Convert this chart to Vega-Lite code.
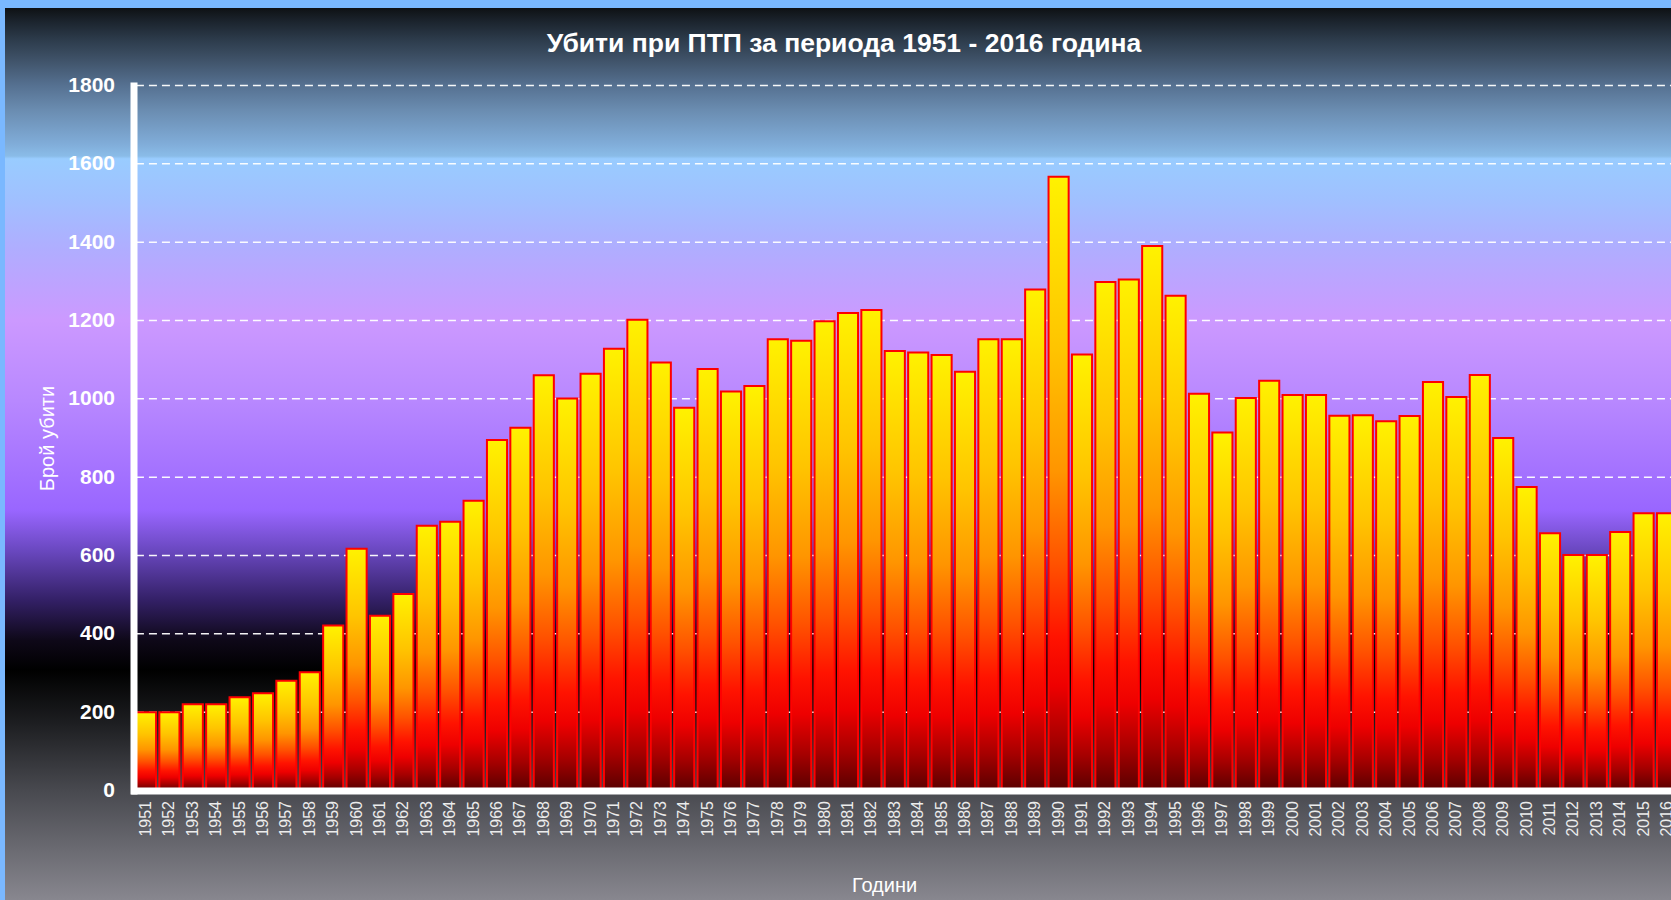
{
  "$schema": "https://vega.github.io/schema/vega-lite/v6.json",
  "width": 1666,
  "height": 892,
  "autosize": {"type": "none"},
  "padding": {"left": 5, "top": 8, "right": 0, "bottom": 0},
  "background": "#7ab8ff",
  "title": {
    "text": "Убити при ПТП за периода 1951 - 2016 година",
    "font": "Liberation Sans",
    "fontSize": 26.5,
    "fontWeight": "bold",
    "color": "#ffffff",
    "anchor": "middle",
    "frame": "group",
    "baseline": "alphabetic",
    "offset": -70,
    "dx": 6
  },
  "config": {
    "view": {
      "stroke": null,
      "fill": {
        "gradient": "linear",
        "x1": 0, "y1": 0, "x2": 0, "y2": 1,
        "stops": [
          {"offset": 0, "color": "#0e1114"},
          {"offset": 0.0135, "color": "#1a222b"},
          {"offset": 0.036, "color": "#2d3c4c"},
          {"offset": 0.058, "color": "#3f5268"},
          {"offset": 0.086, "color": "#557090"},
          {"offset": 0.114, "color": "#6a8cb0"},
          {"offset": 0.152, "color": "#80acd8"},
          {"offset": 0.166, "color": "#8abce8"},
          {"offset": 0.169, "color": "#99ccff"},
          {"offset": 0.215, "color": "#a0c0ff"},
          {"offset": 0.271, "color": "#b0adff"},
          {"offset": 0.35, "color": "#cc99ff"},
          {"offset": 0.44, "color": "#b888ff"},
          {"offset": 0.563, "color": "#9966ff"},
          {"offset": 0.608, "color": "#6a48c0"},
          {"offset": 0.664, "color": "#332066"},
          {"offset": 0.709, "color": "#0e0818"},
          {"offset": 0.742, "color": "#000000"},
          {"offset": 0.8, "color": "#1c1d20"},
          {"offset": 0.877, "color": "#48494f"},
          {"offset": 1, "color": "#88878f"}
        ]
      }
    }
  },
  "layer": [
    {
      "data": {"values": [{"g": 200}, {"g": 400}, {"g": 600}, {"g": 800}, {"g": 1000}, {"g": 1200}, {"g": 1400}, {"g": 1600}, {"g": 1800}]},
      "mark": {"type": "rule", "color": "#ffffff", "strokeWidth": 1.5, "strokeDash": [8, 5], "opacity": 0.95},
      "encoding": {
        "x": {"datum": 1951, "type": "ordinal", "bandPosition": 0},
        "x2": {"datum": 2016, "bandPosition": 1},
        "y": {"field": "g", "type": "quantitative"}
      }
    },
    {
      "data": {"values": [
        {"year": 1951, "killed": 200}, {"year": 1952, "killed": 200}, {"year": 1953, "killed": 220}, {"year": 1954, "killed": 220},
        {"year": 1955, "killed": 238}, {"year": 1956, "killed": 248}, {"year": 1957, "killed": 280}, {"year": 1958, "killed": 302},
        {"year": 1959, "killed": 421}, {"year": 1960, "killed": 617}, {"year": 1961, "killed": 446}, {"year": 1962, "killed": 502},
        {"year": 1963, "killed": 676}, {"year": 1964, "killed": 686}, {"year": 1965, "killed": 740}, {"year": 1966, "killed": 895},
        {"year": 1967, "killed": 926}, {"year": 1968, "killed": 1060}, {"year": 1969, "killed": 1001}, {"year": 1970, "killed": 1064},
        {"year": 1971, "killed": 1128}, {"year": 1972, "killed": 1202}, {"year": 1973, "killed": 1093}, {"year": 1974, "killed": 977},
        {"year": 1975, "killed": 1076}, {"year": 1976, "killed": 1019}, {"year": 1977, "killed": 1033}, {"year": 1978, "killed": 1152},
        {"year": 1979, "killed": 1148}, {"year": 1980, "killed": 1198}, {"year": 1981, "killed": 1219}, {"year": 1982, "killed": 1227},
        {"year": 1983, "killed": 1122}, {"year": 1984, "killed": 1118}, {"year": 1985, "killed": 1112}, {"year": 1986, "killed": 1069},
        {"year": 1987, "killed": 1152}, {"year": 1988, "killed": 1152}, {"year": 1989, "killed": 1279}, {"year": 1990, "killed": 1567},
        {"year": 1991, "killed": 1113}, {"year": 1992, "killed": 1298}, {"year": 1993, "killed": 1305}, {"year": 1994, "killed": 1390},
        {"year": 1995, "killed": 1263}, {"year": 1996, "killed": 1013}, {"year": 1997, "killed": 914}, {"year": 1998, "killed": 1002},
        {"year": 1999, "killed": 1046}, {"year": 2000, "killed": 1010}, {"year": 2001, "killed": 1010}, {"year": 2002, "killed": 957},
        {"year": 2003, "killed": 958}, {"year": 2004, "killed": 943}, {"year": 2005, "killed": 956}, {"year": 2006, "killed": 1043},
        {"year": 2007, "killed": 1005}, {"year": 2008, "killed": 1061}, {"year": 2009, "killed": 900}, {"year": 2010, "killed": 775},
        {"year": 2011, "killed": 657}, {"year": 2012, "killed": 601}, {"year": 2013, "killed": 601}, {"year": 2014, "killed": 660},
        {"year": 2015, "killed": 708}, {"year": 2016, "killed": 708}
      ]},
      "mark": {
        "type": "bar",
        "stroke": "#ff0000",
        "strokeWidth": 2,
        "fill": {
          "gradient": "linear",
          "x1": 0, "y1": 0, "x2": 0, "y2": 1,
          "stops": [
            {"offset": 0, "color": "#fff200"},
            {"offset": 0.28, "color": "#ffc400"},
            {"offset": 0.48, "color": "#ff9500"},
            {"offset": 0.63, "color": "#ff5200"},
            {"offset": 0.75, "color": "#ff1300"},
            {"offset": 0.83, "color": "#ee0000"},
            {"offset": 0.92, "color": "#a50000"},
            {"offset": 1, "color": "#580000"}
          ]
        }
      },
      "encoding": {
        "x": {
          "field": "year",
          "type": "ordinal",
          "scale": {"range": [129.3, 1673.7], "paddingInner": 0.14, "paddingOuter": 0.07},
          "axis": {
            "title": "Години",
            "titleColor": "#ffffff",
            "titleFont": "Liberation Sans",
            "titleFontSize": 20,
            "titleFontWeight": "normal",
            "titleX": 879,
            "titleY": 95,
            "titleBaseline": "middle",
            "labelAngle": 270,
            "labelFont": "Liberation Sans",
            "labelFontSize": 16,
            "labelColor": "#ececec",
            "labelPadding": 10,
            "labelOverlap": false,
            "ticks": false,
            "domainColor": "#ffffff",
            "domainWidth": 7,
            "domainCap": "square",
            "offset": -109.5,
            "zindex": 1
          }
        },
        "y": {
          "field": "killed",
          "type": "quantitative",
          "scale": {"domain": [0, 1800], "range": [782.5, 77.5], "nice": false, "zero": true},
          "axis": {
            "title": "Брой убити",
            "titleColor": "#ffffff",
            "titleFont": "Liberation Sans",
            "titleFontSize": 20,
            "titleFontWeight": "normal",
            "titlePadding": 10,
            "values": [0, 200, 400, 600, 800, 1000, 1200, 1400, 1600, 1800],
            "format": "d",
            "labelFont": "Liberation Sans",
            "labelFontSize": 21,
            "labelFontWeight": "bold",
            "labelColor": "#ffffff",
            "labelPadding": 19,
            "ticks": false,
            "grid": false,
            "domainColor": "#ffffff",
            "domainWidth": 7,
            "domainCap": "square",
            "offset": -128.5,
            "zindex": 1
          }
        }
      }
    }
  ]
}
